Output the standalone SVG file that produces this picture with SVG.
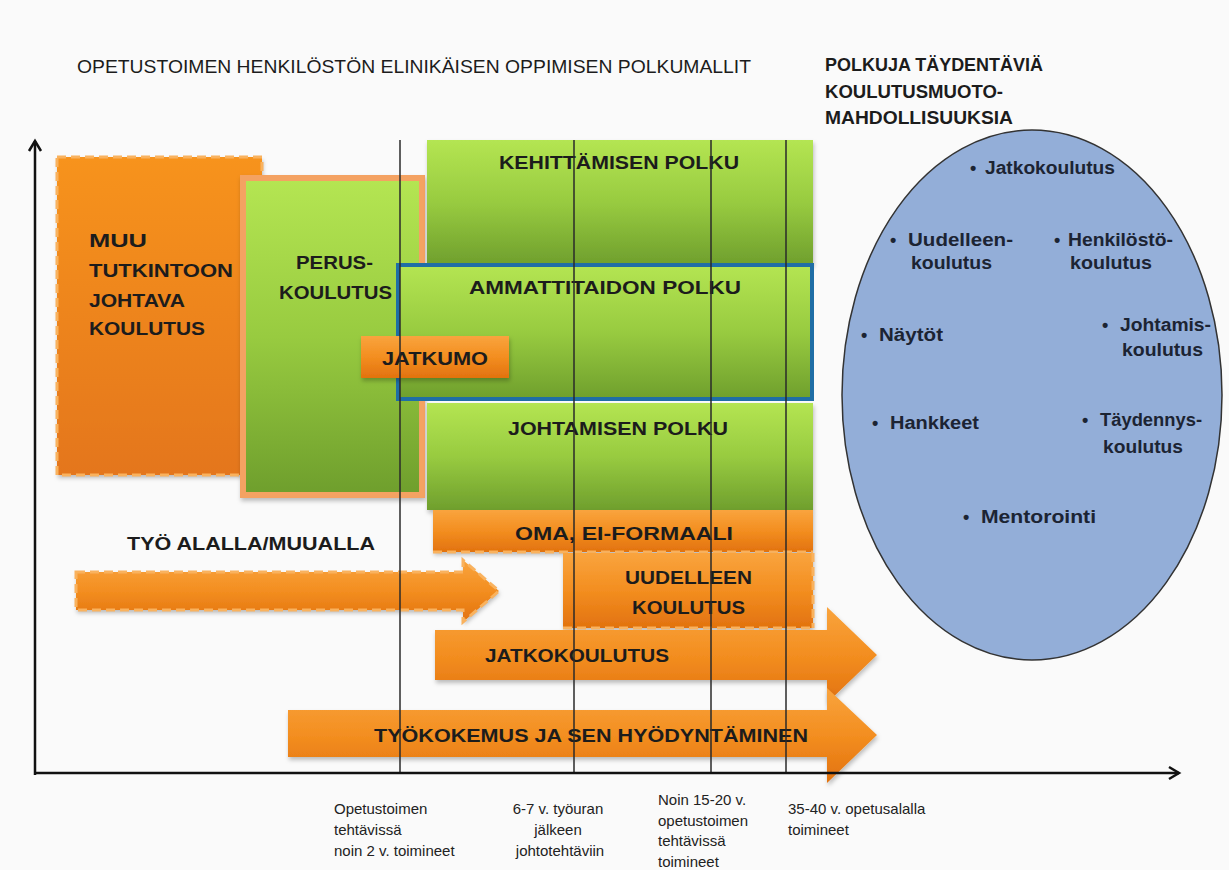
<svg xmlns="http://www.w3.org/2000/svg" width="1229" height="870" viewBox="0 0 1229 870">
<defs>
<linearGradient id="gGreen" x1="0" y1="0" x2="0" y2="1">
<stop offset="0" stop-color="#b4e552"/>
<stop offset="0.5" stop-color="#98cb40"/>
<stop offset="1" stop-color="#6f9f2d"/>
</linearGradient>
<linearGradient id="gOrange" x1="0" y1="0" x2="0" y2="1">
<stop offset="0" stop-color="#f9a43e"/>
<stop offset="0.5" stop-color="#f38e20"/>
<stop offset="1" stop-color="#e2720f"/>
</linearGradient>
<linearGradient id="gOrangeBox" x1="0" y1="0" x2="0" y2="1">
<stop offset="0" stop-color="#f7931e"/>
<stop offset="1" stop-color="#e4761a"/>
</linearGradient>
<filter id="sh" x="-10%" y="-10%" width="120%" height="130%">
<feDropShadow dx="1" dy="3" stdDeviation="2" flood-color="#000" flood-opacity="0.25"/>
</filter>
<style>
.t{font-family:"Liberation Sans",Arial,sans-serif;fill:#1c1c1c}
.b{font-weight:bold}
.box{font-family:"Liberation Sans",Arial,sans-serif;font-weight:bold;font-size:19px;fill:#1c1c1c}
.el{font-family:"Liberation Sans",Arial,sans-serif;font-weight:bold;font-size:18px;fill:#1c2433}
.lab{font-family:"Liberation Sans",Arial,sans-serif;font-size:15px;fill:#222}
.mid{text-anchor:middle}
.vl{stroke:#2a2a2a;stroke-width:1.5;fill:none}
.ax{stroke:#111;stroke-width:2.5;fill:none}
.dash{stroke:#f9b25e;stroke-width:3;stroke-dasharray:9 5}
</style>
</defs>
<rect x="0" y="0" width="1229" height="870" fill="#fafafa"/>

<g id="title">
<text class="t" x="77" y="73" font-size="18" textLength="674" lengthAdjust="spacingAndGlyphs">OPETUSTOIMEN HENKILÖSTÖN ELINIKÄISEN OPPIMISEN POLKUMALLIT</text>
<text class="t b" x="825" y="71" font-size="18" textLength="218" lengthAdjust="spacingAndGlyphs">POLKUJA TÄYDENTÄVIÄ</text>
<text class="t b" x="825" y="98" font-size="18" textLength="178" lengthAdjust="spacingAndGlyphs">KOULUTUSMUOTO-</text>
<text class="t b" x="825" y="124" font-size="18" textLength="188" lengthAdjust="spacingAndGlyphs">MAHDOLLISUUKSIA</text>
</g>

<g id="ellipse-options">
<ellipse cx="1032" cy="395" rx="190" ry="265" fill="#93aed8" stroke="#333" stroke-width="1.5"/>
<g class="el">
<text x="970" y="174">•</text><text x="985" y="174" textLength="130" lengthAdjust="spacingAndGlyphs">Jatkokoulutus</text>
<text x="890" y="246">•</text><text x="908" y="246" textLength="105" lengthAdjust="spacingAndGlyphs">Uudelleen-</text>
<text x="911" y="269" textLength="81" lengthAdjust="spacingAndGlyphs">koulutus</text>
<text x="1054" y="246">•</text><text x="1068" y="246" textLength="105" lengthAdjust="spacingAndGlyphs">Henkilöstö-</text>
<text x="1070" y="269" textLength="82" lengthAdjust="spacingAndGlyphs">koulutus</text>
<text x="861" y="341">•</text><text x="879" y="341" textLength="64" lengthAdjust="spacingAndGlyphs">Näytöt</text>
<text x="1102" y="331">•</text><text x="1120" y="331" textLength="91" lengthAdjust="spacingAndGlyphs">Johtamis-</text>
<text x="1122" y="356" textLength="81" lengthAdjust="spacingAndGlyphs">koulutus</text>
<text x="872" y="429">•</text><text x="890" y="429" textLength="89" lengthAdjust="spacingAndGlyphs">Hankkeet</text>
<text x="1082" y="426">•</text><text x="1100" y="426" textLength="102" lengthAdjust="spacingAndGlyphs">Täydennys-</text>
<text x="1103" y="453" textLength="80" lengthAdjust="spacingAndGlyphs">koulutus</text>
<text x="963" y="523">•</text><text x="981" y="523" textLength="115" lengthAdjust="spacingAndGlyphs">Mentorointi</text>
</g>
</g>

<g id="muu">
<rect x="57" y="157" width="205" height="318" fill="url(#gOrangeBox)" filter="url(#sh)"/>
<rect x="57" y="157" width="205" height="318" fill="none" class="dash"/>
<text class="box" font-size="20" x="89" y="247" textLength="58" lengthAdjust="spacingAndGlyphs">MUU</text>
<text class="box" font-size="20" x="89" y="277" textLength="144" lengthAdjust="spacingAndGlyphs">TUTKINTOON</text>
<text class="box" font-size="20" x="89" y="307" textLength="96" lengthAdjust="spacingAndGlyphs">JOHTAVA</text>
<text class="box" font-size="20" x="89" y="335" textLength="116" lengthAdjust="spacingAndGlyphs">KOULUTUS</text>
</g>

<g id="peruskoulutus">
<rect x="240" y="175" width="185" height="323" fill="#f4a262" filter="url(#sh)"/>
<rect x="246" y="181" width="173" height="311" fill="url(#gGreen)"/>
<text class="box" font-size="20" x="296" y="269" textLength="77" lengthAdjust="spacingAndGlyphs">PERUS-</text>
<text class="box" font-size="20" x="279" y="299" textLength="113" lengthAdjust="spacingAndGlyphs">KOULUTUS</text>
</g>

<g id="kehittamisen">
<rect x="427" y="140" width="386" height="125" fill="url(#gGreen)" filter="url(#sh)"/>
<text class="box" x="499" y="169" textLength="240" lengthAdjust="spacingAndGlyphs">KEHITTÄMISEN POLKU</text>
</g>

<g id="johtamisen">
<rect x="427" y="403" width="386" height="107" fill="url(#gGreen)" filter="url(#sh)"/>
<text class="box" x="508" y="435" textLength="220" lengthAdjust="spacingAndGlyphs">JOHTAMISEN POLKU</text>
</g>

<g id="ammattitaidon">
<rect x="398" y="265" width="414" height="134" fill="url(#gGreen)" stroke="#1f6ea6" stroke-width="4"/>
<text class="box" x="469" y="294" textLength="272" lengthAdjust="spacingAndGlyphs">AMMATTITAIDON POLKU</text>
</g>

<g id="jatkumo">
<rect x="361" y="336" width="148" height="42" fill="url(#gOrange)" filter="url(#sh)"/>
<text class="box" x="382" y="365" textLength="106" lengthAdjust="spacingAndGlyphs">JATKUMO</text>
</g>

<g id="oma">
<rect x="433" y="510" width="380" height="42" fill="url(#gOrange)" filter="url(#sh)"/>
<line x1="433" y1="552" x2="813" y2="552" class="dash" stroke-width="2.5"/>
<text class="box" x="515" y="540" textLength="218" lengthAdjust="spacingAndGlyphs">OMA,  EI-FORMAALI</text>
</g>

<g id="tyo-alalla">
<text class="box" font-size="20" x="127" y="550" textLength="248" lengthAdjust="spacingAndGlyphs">TYÖ ALALLA/MUUALLA</text>
<polygon points="76,572 463,572 463,560 499,591 463,622 463,610 76,610" fill="url(#gOrange)" filter="url(#sh)"/>
<polygon points="76,572 463,572 463,560 499,591 463,622 463,610 76,610" fill="none" class="dash" stroke-width="2.5"/>
</g>

<g id="uudelleen">
<rect x="563" y="553" width="250" height="75" fill="url(#gOrange)" filter="url(#sh)"/>
<line x1="563" y1="628" x2="813" y2="628" class="dash" stroke-width="2.5"/>
<line x1="813" y1="553" x2="813" y2="628" class="dash" stroke-width="2"/>
<text class="box" x="625" y="584" textLength="127" lengthAdjust="spacingAndGlyphs">UUDELLEEN</text>
<text class="box" x="632" y="614" textLength="113" lengthAdjust="spacingAndGlyphs">KOULUTUS</text>
</g>

<g id="jatkokoulutus">
<polygon points="435,630 827,630 827,607 877,655 827,703 827,680 435,680" fill="url(#gOrange)" filter="url(#sh)"/>
<text class="box" x="485" y="662" textLength="184" lengthAdjust="spacingAndGlyphs">JATKOKOULUTUS</text>
</g>

<g id="tyokokemus">
<polygon points="288,710 827,710 827,688 877,735 827,783 827,757 288,757" fill="url(#gOrange)" filter="url(#sh)"/>
<text class="box" x="374" y="742" textLength="434" lengthAdjust="spacingAndGlyphs">TYÖKOKEMUS JA SEN HYÖDYNTÄMINEN</text>
</g>

<g id="connectors">
<line class="vl" x1="400" y1="140" x2="400" y2="773"/>
<line class="vl" x1="574" y1="140" x2="574" y2="773"/>
<line class="vl" x1="711" y1="140" x2="711" y2="773"/>
<line class="vl" x1="786" y1="140" x2="786" y2="773"/>
<line class="ax" x1="35" y1="775" x2="35" y2="141"/>
<polyline class="ax" points="29,151 35,141 41,151"/>
<line class="ax" x1="34" y1="773" x2="1179" y2="773"/>
<polyline class="ax" points="1169,767 1179,773 1169,779"/>
</g>

<g id="axis-labels">
<text class="lab" x="334" y="814">Opetustoimen</text>
<text class="lab" x="334" y="835">tehtävissä</text>
<text class="lab" x="334" y="856">noin 2 v. toimineet</text>
<text class="lab mid" x="558" y="814">6-7 v. työuran</text>
<text class="lab mid" x="558" y="835">jälkeen</text>
<text class="lab mid" x="560" y="856">johtotehtäviin</text>
<text class="lab" x="658" y="805">Noin 15-20 v.</text>
<text class="lab" x="658" y="826">opetustoimen</text>
<text class="lab" x="658" y="846">tehtävissä</text>
<text class="lab" x="658" y="867">toimineet</text>
<text class="lab" x="788" y="814">35-40 v. opetusalalla</text>
<text class="lab" x="788" y="835">toimineet</text>
</g>
</svg>
